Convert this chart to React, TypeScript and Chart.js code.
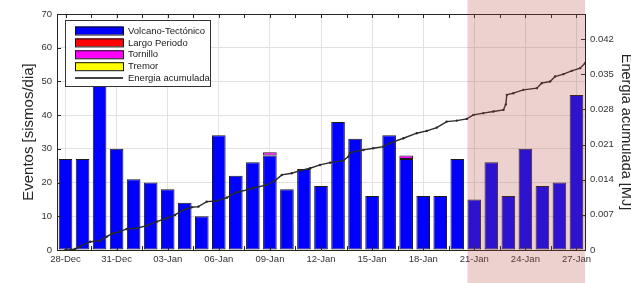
import React, { useEffect, useRef } from 'react';
import { Chart, registerables } from 'chart.js';

Chart.register(...registerables);

const dates = [
  '28-Dec', '29-Dec', '30-Dec', '31-Dec', '01-Jan', '02-Jan', '03-Jan', '04-Jan', '05-Jan', '06-Jan',
  '07-Jan', '08-Jan', '09-Jan', '10-Jan', '11-Jan', '12-Jan', '13-Jan', '14-Jan', '15-Jan', '16-Jan',
  '17-Jan', '18-Jan', '19-Jan', '20-Jan', '21-Jan', '22-Jan', '23-Jan', '24-Jan', '25-Jan', '26-Jan', '27-Jan',
];
const volcanoTectonico = [27, 27, 55, 30, 21, 20, 18, 14, 10, 34, 22, 26, 28, 18, 24, 19, 38, 33, 16, 34, 27, 16, 16, 27, 15, 26, 16, 30, 19, 20, 46];
const largoPeriodo = [0, 0, 0, 0, 0, 0, 0, 0, 0, 0, 0, 0, 0, 0, 0, 0, 0, 0, 0, 0, 0, 0, 0, 0, 0, 0, 0, 0, 0, 0, 0];
const tornillo = [0, 0, 0, 0, 0, 0, 0, 0, 0, 0, 0, 0, 1, 0, 0, 0, 0, 0, 0, 0, 1, 0, 0, 0, 0, 0, 0, 0, 0, 0, 0];
const tremor = [0, 0, 0, 0, 0, 0, 0, 0, 0, 0, 0, 0, 0, 0, 0, 0, 0, 0, 0, 0, 0, 0, 0, 0, 0, 0, 0, 0, 0, 0, 0];

// cumulative energy: time in days since 28-Dec, value in MJ
const energyDay = [
  0, 0.26, 0.56, 0.85, 1.44, 2.03, 2.42, 2.79, 3.2, 3.59, 4.18, 4.77, 5.36, 5.94, 6.43,
  6.92, 7.41, 7.8, 8.29, 8.88, 9.47, 10.05, 10.25, 11.01, 11.81, 12.3, 12.7, 13.28, 13.77, 14.36,
  14.94, 15.53, 16.31, 16.61, 16.71, 17.49, 18.07, 18.66, 19.05, 19.84, 20.62, 21.21, 21.8, 22.38, 22.97,
  23.56, 23.95, 24.53, 25.12, 25.71, 25.85, 25.91, 26.29, 26.88, 27.67, 27.96, 28.45, 28.74, 29.23, 29.72,
  30.21, 30.5,
];
const energyMJ = [
  0, 0, 0.0002, 0.00066, 0.00165, 0.00185, 0.00265, 0.00333, 0.00365, 0.00419, 0.00433, 0.00484, 0.00564, 0.00632, 0.00698,
  0.00797, 0.00851, 0.00863, 0.00963, 0.00977, 0.01042, 0.0115, 0.01162, 0.0123, 0.01296, 0.01381, 0.01495, 0.01529, 0.01581, 0.01628,
  0.01694, 0.0174, 0.0178, 0.0186, 0.0194, 0.01993, 0.02027, 0.02059, 0.02127, 0.02226, 0.02326, 0.02372, 0.02438, 0.02557, 0.02577,
  0.02611, 0.02691, 0.02725, 0.02757, 0.0279, 0.029, 0.0309, 0.03123, 0.03189, 0.03223, 0.03323, 0.03355, 0.03454, 0.03502, 0.03568,
  0.03622, 0.03721,
];

const leftMax = 70;
const rightMax = 0.047;
const rightTicks = [0, 0.007, 0.014, 0.021, 0.028, 0.035, 0.042];
const xTickDays = [0, 1.5, 3, 4.5, 6, 7.5, 9, 10.5, 12, 13.5, 15, 16.5, 18, 19.5, 21, 22.5, 24, 25.5, 27, 28.5, 30];
const shadeStartDay = 23.6;
const shadeEndDay = 30.5;

const FONT = "'Liberation Sans', Arial, Helvetica, sans-serif";
const AXIS = '#262626';
const GRID = '#e2e2e2';

const decorPlugin = {
  id: 'decor',
  afterDraw(chart: any) {
    const { ctx, chartArea: a, scales } = chart;
    const x = scales.x, y = scales.y, y1 = scales.y1;
    ctx.save();
    // top frame line
    ctx.strokeStyle = AXIS;
    ctx.lineWidth = 1;
    ctx.beginPath();
    ctx.moveTo(a.left, Math.round(a.top) + 0.5);
    ctx.lineTo(a.right, Math.round(a.top) + 0.5);
    ctx.stroke();
    // inward ticks
    ctx.beginPath();
    x.ticks.forEach((t: any) => {
      const px = Math.round(x.getPixelForValue(t.value)) + 0.5;
      ctx.moveTo(px, a.bottom);
      ctx.lineTo(px, a.bottom - 4);
      ctx.moveTo(px, a.top);
      ctx.lineTo(px, a.top + 4);
    });
    y.ticks.forEach((t: any) => {
      const py = Math.round(y.getPixelForValue(t.value)) + 0.5;
      ctx.moveTo(a.left, py);
      ctx.lineTo(a.left + 4, py);
    });
    y1.ticks.forEach((t: any) => {
      const py = Math.round(y1.getPixelForValue(t.value)) + 0.5;
      ctx.moveTo(a.right, py);
      ctx.lineTo(a.right - 4, py);
    });
    ctx.stroke();

    // shaded period
    const sx0 = x.getPixelForValue(shadeStartDay);
    const sx1 = x.getPixelForValue(shadeEndDay);
    ctx.fillStyle = 'rgba(180,70,60,0.25)';
    ctx.fillRect(sx0, 0, sx1 - sx0, chart.height);

    // legend
    const bx = a.left + 8;
    const by = a.top + 6;
    const bw = 145;
    const bh = 66;
    ctx.fillStyle = '#ffffff';
    ctx.fillRect(bx, by, bw, bh);
    ctx.strokeStyle = '#333333';
    ctx.strokeRect(bx + 0.5, by + 0.5, bw, bh);
    const dsList = chart.data.datasets;
    const legendOrder = [1, 2, 3, 4, 0];
    ctx.font = `9.5px ${FONT}`;
    ctx.textBaseline = 'middle';
    ctx.textAlign = 'left';
    legendOrder.forEach((di, row) => {
      const ds = dsList[di];
      const cy = by + 10.5 + row * 11.9;
      const sx = bx + 10;
      if (ds.type === 'line') {
        ctx.strokeStyle = '#444';
        ctx.lineWidth = 2;
        ctx.beginPath();
        ctx.moveTo(sx, cy);
        ctx.lineTo(sx + 48, cy);
        ctx.stroke();
        ctx.lineWidth = 1;
      } else {
        ctx.fillStyle = ds.backgroundColor;
        ctx.fillRect(sx, cy - 4, 48, 8);
        ctx.strokeStyle = '#111';
        ctx.strokeRect(sx + 0.5, cy - 3.5, 48, 8);
      }
      ctx.fillStyle = '#1a1a1a';
      ctx.fillText(ds.label, bx + 63, cy + 0.5);
    });
    ctx.restore();
  },
};

export default function App() {
  const ref = useRef<HTMLCanvasElement | null>(null);

  useEffect(() => {
    if (!ref.current) return;
    Chart.defaults.font.family = FONT;
    const barDs = (label: string, values: number[], color: string) => ({
      type: 'bar' as const,
      label,
      data: values.map((v, i) => ({ x: i, y: v ? v : null })),
      backgroundColor: color,
      borderColor: '#1a1a1a',
      borderWidth: 1,
      borderSkipped: false,
      barPercentage: 0.8,
      categoryPercentage: 1,
      yAxisID: 'y',
      order: 1,
    });
    const chart = new Chart(ref.current, {
      data: {
        datasets: [
          {
            type: 'line',
            label: 'Energia acumulada',
            data: energyDay.map((d, i) => ({ x: d, y: energyMJ[i] })),
            borderColor: '#2a2a2a',
            backgroundColor: '#2a2a2a',
            borderWidth: 1.4,
            pointRadius: 1.2,
            pointBorderWidth: 0,
            pointBackgroundColor: '#2a2a2a',
            tension: 0,
            yAxisID: 'y1',
            order: 0,
          } as any,
          barDs('Volcano-Tectónico', volcanoTectonico, '#0000ff'),
          barDs('Largo Periodo', largoPeriodo, '#ff0000'),
          barDs('Tornillo', tornillo, '#ff00ff'),
          barDs('Tremor', tremor, '#ffff00'),
        ],
      },
      options: {
        responsive: false,
        animation: false,
        layout: { padding: { top: 14, left: 0, right: 0, bottom: 0 } },
        plugins: { legend: { display: false }, tooltip: { enabled: false }, title: { display: false } },
        scales: {
          x: {
            type: 'linear',
            min: -0.5,
            max: 30.5,
            offset: false,
            stacked: true,
            afterBuildTicks: (s: any) => {
              s.ticks = xTickDays.map((v) => ({ value: v }));
            },
            afterFit: (s: any) => {
              s.height = 33;
            },
            ticks: {
              autoSkip: false,
              maxRotation: 0,
              padding: 4,
              color: '#333',
              font: { size: 9.5 },
              callback: (v: any) => (Number(v) % 3 === 0 ? dates[Number(v)] : ''),
            },
            grid: {
              offset: false,
              drawTicks: false,
              color: (c: any) => (c.tick && c.tick.value % 3 === 0 ? GRID : 'rgba(0,0,0,0)'),
            },
            border: { color: AXIS, width: 1 },
          },
          y: {
            type: 'linear',
            position: 'left',
            stacked: true,
            min: 0,
            max: leftMax,
            afterFit: (s: any) => {
              s.width = 57;
            },
            ticks: { stepSize: 10, padding: 5, color: '#333', font: { size: 9.5 } },
            grid: { drawTicks: false, color: GRID },
            border: { color: AXIS, width: 1 },
            title: {
              display: true,
              text: 'Eventos [sismos/dia]',
              color: '#262626',
              font: { size: 15, lineHeight: 1 },
              padding: { top: 21, bottom: 0 },
            },
          },
          y1: {
            type: 'linear',
            position: 'right',
            stacked: false,
            min: 0,
            max: rightMax,
            afterBuildTicks: (s: any) => {
              s.ticks = rightTicks.map((v) => ({ value: v }));
            },
            afterFit: (s: any) => {
              s.width = 46;
            },
            ticks: {
              padding: 5,
              color: '#333',
              font: { size: 9.5 },
              callback: (v: any) => (Number(v) === 0 ? '0' : Number(v).toFixed(3)),
            },
            grid: { drawOnChartArea: false, drawTicks: false },
            border: { color: AXIS, width: 1 },
            title: {
              display: true,
              text: 'Energia acumulada [MJ]',
              color: '#262626',
              font: { size: 14.5, lineHeight: 1 },
              padding: { top: -2, bottom: 0 },
            },
          },
        },
      } as any,
      plugins: [decorPlugin],
    });
    return () => chart.destroy();
  }, []);

  return (
    <div style={{ position: 'fixed', left: 0, top: 0, width: 631, height: 283, background: '#fff' }}>
      <canvas ref={ref} width={631} height={283} style={{ display: 'block' }} />
    </div>
  );
}
